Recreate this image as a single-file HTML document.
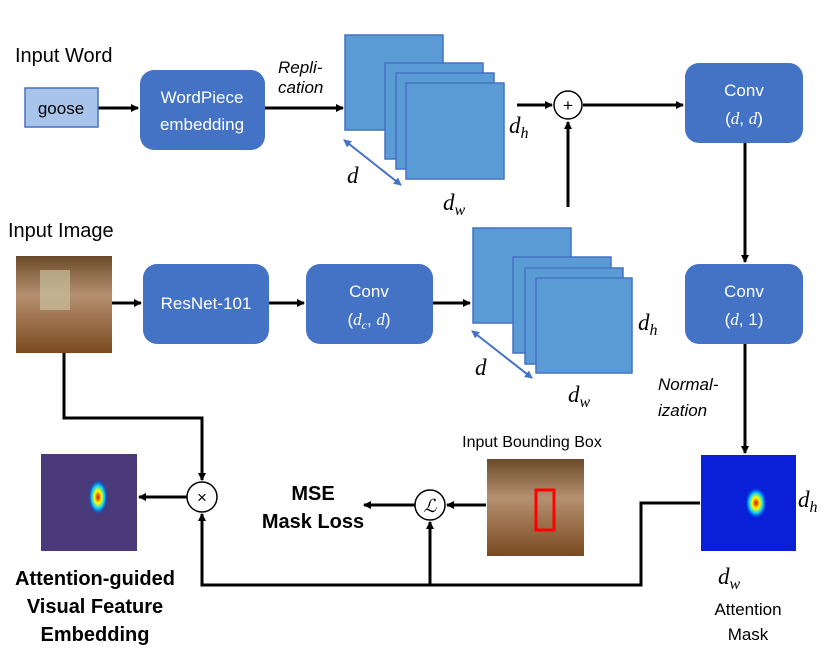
<!DOCTYPE html>
<html><head><meta charset="utf-8"><style>
body{margin:0;background:#fff}
svg{display:block}
text{font-family:"Liberation Sans",sans-serif}
.bt{fill:#fff;font-size:17px;text-anchor:middle}
.m{font-family:"Liberation Serif",serif;font-style:italic;font-size:23px}
</style></head><body>
<svg width="830" height="671" viewBox="0 0 830 671" xmlns="http://www.w3.org/2000/svg">
<defs>
<marker id="a" markerWidth="8" markerHeight="8" refX="7" refY="4" orient="auto" markerUnits="userSpaceOnUse"><path d="M0,0 L8,4 L0,8 z" fill="#000"/></marker>
<marker id="b" markerWidth="8" markerHeight="8" refX="7" refY="4" orient="auto-start-reverse" markerUnits="userSpaceOnUse"><path d="M0,0 L8,4 L0,8 z" fill="#4472c4"/></marker>
<linearGradient id="room" x1="0" y1="0" x2="0" y2="1"><stop offset="0" stop-color="#6b4a2a"/><stop offset="0.4" stop-color="#b59070"/><stop offset="1" stop-color="#7a4a20"/></linearGradient>
<radialGradient id="hot" cx="0.5" cy="0.5" r="0.5"><stop offset="0" stop-color="#d00"/><stop offset="0.35" stop-color="#ff0"/><stop offset="0.65" stop-color="#0cf"/><stop offset="1" stop-color="#0020e0" stop-opacity="0"/></radialGradient>
</defs>
<g stroke="#000" stroke-width="3" fill="none">
<line x1="98" y1="108" x2="138" y2="108" marker-end="url(#a)"/>
<line x1="265" y1="108" x2="343" y2="108" marker-end="url(#a)"/>
<line x1="517" y1="105" x2="552" y2="105" marker-end="url(#a)"/>
<line x1="583" y1="105" x2="683" y2="105" marker-end="url(#a)"/>
<line x1="568" y1="207" x2="568" y2="122" marker-end="url(#a)"/>
<line x1="745" y1="143" x2="745" y2="262" marker-end="url(#a)"/>
<line x1="745" y1="344" x2="745" y2="453" marker-end="url(#a)"/>
<line x1="112" y1="303" x2="141" y2="303" marker-end="url(#a)"/>
<line x1="269" y1="303" x2="304" y2="303" marker-end="url(#a)"/>
<line x1="433" y1="303" x2="470" y2="303" marker-end="url(#a)"/>
<polyline points="64,353 64,418 202,418 202,480" marker-end="url(#a)"/>
<line x1="187" y1="497" x2="139" y2="497" marker-end="url(#a)"/>
<line x1="415" y1="505" x2="364" y2="505" marker-end="url(#a)"/>
<line x1="486" y1="505" x2="447" y2="505" marker-end="url(#a)"/>
<polyline points="700,503 641,503 641,585 202,585 202,514" marker-end="url(#a)"/>
<line x1="430" y1="585" x2="430" y2="522" marker-end="url(#a)"/>
</g>
<text x="15" y="62" font-size="20">Input Word</text>
<rect x="25" y="88" width="73" height="39" fill="#a9c4eb" stroke="#4472c4" stroke-width="1.5"/>
<text x="61" y="114" font-size="17" text-anchor="middle">goose</text>
<rect x="140" y="70" width="125" height="80" rx="14" fill="#4472c4"/>
<text x="202" y="103" class="bt">WordPiece</text><text x="202" y="130" class="bt">embedding</text>
<text x="278" y="73" font-size="17" font-style="italic">Repli-</text>
<text x="278" y="93" font-size="17" font-style="italic">cation</text>
<g fill="#5b9bd5" stroke="#4472c4" stroke-width="1.5">
<rect x="345" y="35" width="98" height="95"/><rect x="385" y="63" width="98" height="96"/><rect x="396" y="73" width="98" height="96"/><rect x="406" y="83" width="98" height="96"/>
<rect x="473" y="228" width="98" height="95"/><rect x="513" y="257" width="98" height="96"/><rect x="525" y="268" width="98" height="96"/><rect x="536" y="278" width="96" height="95"/>
</g>
<line x1="344" y1="140" x2="401" y2="185" stroke="#4472c4" stroke-width="2" marker-start="url(#b)" marker-end="url(#b)"/>
<line x1="472" y1="331" x2="532" y2="378" stroke="#4472c4" stroke-width="2" marker-start="url(#b)" marker-end="url(#b)"/>
<text x="347" y="183" class="m">d</text><text x="443" y="210" class="m">d<tspan font-size="16" dy="5">w</tspan></text>
<text x="509" y="133" class="m">d<tspan font-size="16" dy="5">h</tspan></text>
<text x="475" y="375" class="m">d</text><text x="568" y="402" class="m">d<tspan font-size="16" dy="5">w</tspan></text>
<text x="638" y="330" class="m">d<tspan font-size="16" dy="5">h</tspan></text>
<circle cx="568" cy="105" r="14" fill="#fff" stroke="#000" stroke-width="1.5"/>
<text x="568" y="111" font-size="17" text-anchor="middle">+</text>
<rect x="685" y="63" width="118" height="80" rx="14" fill="#4472c4"/>
<text x="744" y="96" class="bt">Conv</text><text x="744" y="124" class="bt">(<tspan font-style="italic" font-family="Liberation Serif">d</tspan>,  <tspan font-style="italic" font-family="Liberation Serif">d</tspan>)</text>
<rect x="685" y="264" width="118" height="80" rx="14" fill="#4472c4"/>
<text x="744" y="297" class="bt">Conv</text><text x="744" y="325" class="bt">(<tspan font-style="italic" font-family="Liberation Serif">d</tspan>,  1)</text>
<text x="658" y="390" font-size="17" font-style="italic">Normal-</text>
<text x="658" y="416" font-size="17" font-style="italic">ization</text>
<text x="8" y="237" font-size="20">Input Image</text>
<rect x="16" y="256" width="96" height="97" fill="url(#room)"/>
<rect x="40" y="270" width="30" height="40" fill="#c9c0a0" opacity="0.7"/>
<rect x="143" y="264" width="126" height="80" rx="14" fill="#4472c4"/>
<text x="206" y="309" class="bt">ResNet-101</text>
<rect x="306" y="264" width="127" height="80" rx="14" fill="#4472c4"/>
<text x="369" y="297" class="bt">Conv</text><text x="369" y="325" class="bt">(<tspan font-style="italic" font-family="Liberation Serif">d<tspan font-size="12" dy="4">c</tspan></tspan><tspan dy="-4">, </tspan><tspan font-style="italic" font-family="Liberation Serif">d</tspan>)</text>
<rect x="41" y="454" width="96" height="97" fill="#4a3a7a"/>
<ellipse cx="98" cy="497" rx="10" ry="18" fill="url(#hot)"/>
<circle cx="202" cy="497" r="15" fill="#fff" stroke="#000" stroke-width="1.5"/>
<text x="202" y="503" font-size="17" text-anchor="middle">×</text>
<text x="313" y="500" font-size="20" font-weight="bold" text-anchor="middle">MSE</text>
<text x="313" y="528" font-size="20" font-weight="bold" text-anchor="middle">Mask Loss</text>
<circle cx="430" cy="505" r="15" fill="#fff" stroke="#000" stroke-width="1.5"/>
<text x="430" y="512" font-size="18" font-style="italic" font-family="Liberation Serif" text-anchor="middle">ℒ</text>
<text x="532" y="447" font-size="16" text-anchor="middle">Input Bounding Box</text>
<rect x="487" y="459" width="97" height="97" fill="url(#room)"/>
<rect x="536" y="490" width="18" height="40" fill="none" stroke="#f00" stroke-width="3"/>
<rect x="701" y="455" width="95" height="96" fill="#0a1fd8"/>
<ellipse cx="756" cy="503" rx="11" ry="16" fill="url(#hot)"/>
<text x="798" y="507" class="m">d<tspan font-size="16" dy="5">h</tspan></text>
<text x="718" y="584" class="m">d<tspan font-size="16" dy="5">w</tspan></text>
<text x="748" y="615" font-size="17" text-anchor="middle">Attention</text>
<text x="748" y="640" font-size="17" text-anchor="middle">Mask</text>
<text x="95" y="585" font-size="20" font-weight="bold" text-anchor="middle">Attention-guided</text>
<text x="95" y="613" font-size="20" font-weight="bold" text-anchor="middle">Visual Feature</text>
<text x="95" y="641" font-size="20" font-weight="bold" text-anchor="middle">Embedding</text>
</svg>
</body></html>
